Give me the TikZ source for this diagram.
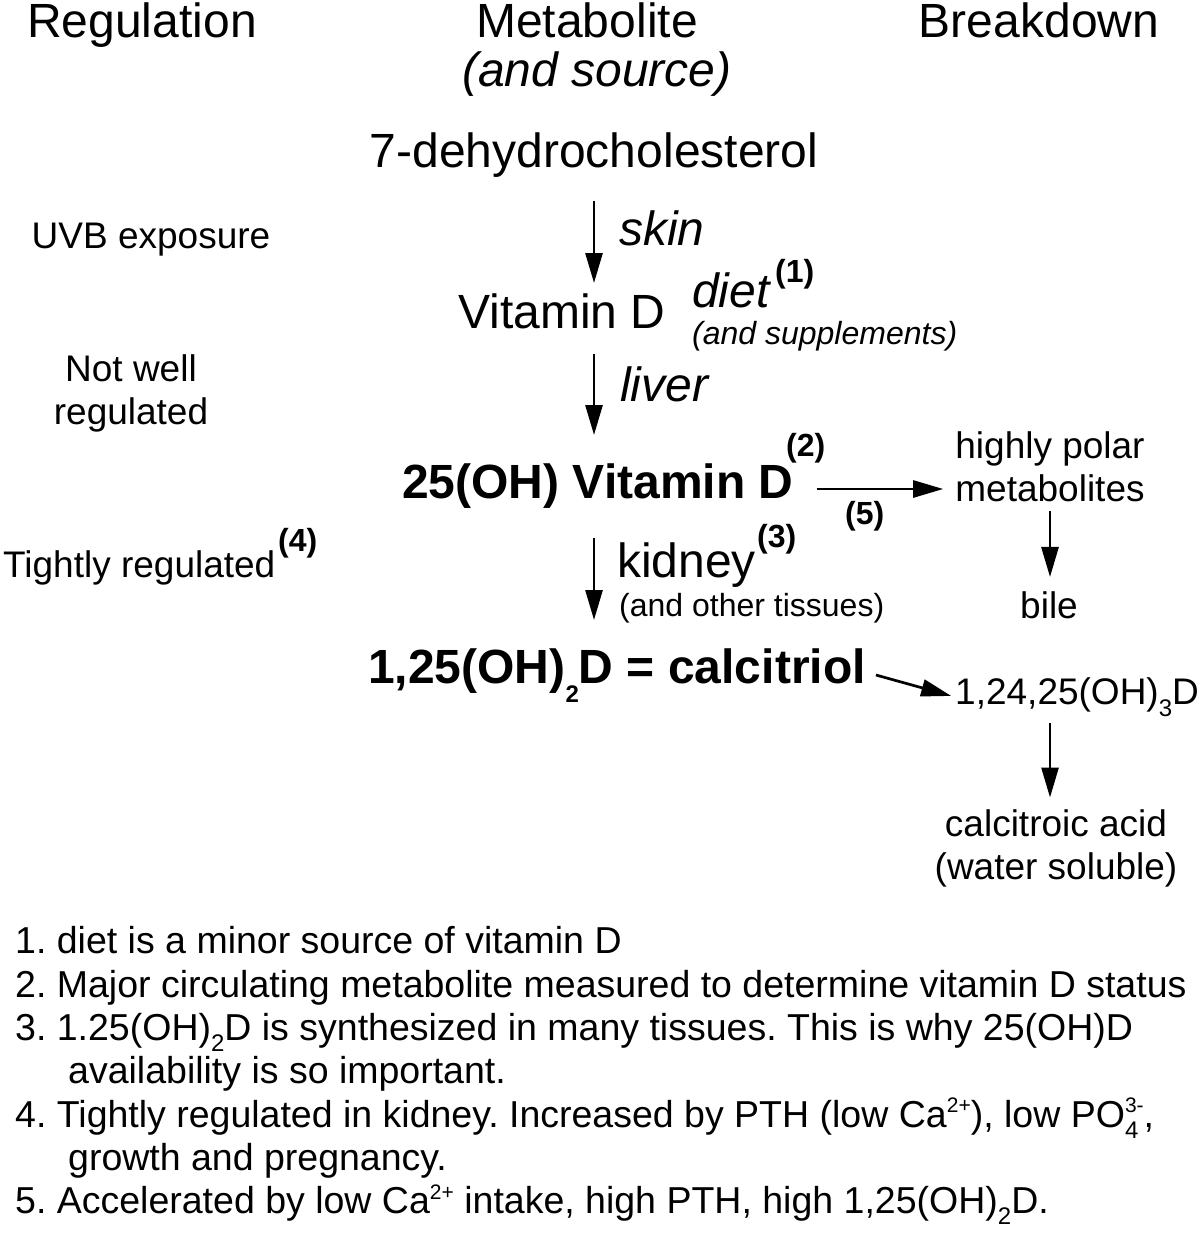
\documentclass[tikz,border=0pt]{standalone}
\usepackage{fontspec}
\setmainfont{Liberation Sans}
\usepackage{tikz}
\usetikzlibrary{arrows.meta}
\tikzset
{
    heading/.style  = {font=\fontsize{48}{56}\selectfont, inner sep=0pt, anchor=base},
    metab/.style    = {font=\fontsize{48}{56}\selectfont, inner sep=0pt, anchor=base west},
    metabold/.style = {font=\fontsize{48}{56}\selectfont\bfseries, inner sep=0pt, anchor=base west},
    organ/.style    = {font=\fontsize{48}{56}\selectfont\itshape, inner sep=0pt, anchor=base west},
    remark/.style   = {font=\fontsize{37}{43.3}\selectfont, inner sep=0pt, align=center},
    aside/.style    = {font=\fontsize{32}{38}\selectfont, inner sep=0pt, anchor=base west},
    notemark/.style = {font=\fontsize{32}{38}\selectfont\bfseries, inner sep=0pt, anchor=base west},
    arrow/.style    = {line width=2.7pt, -{Triangle[length=30pt,width=17pt]}}
}
% lowered / raised small figures
\newcommand\sbx[3]{\raisebox{-#1}{\fontsize{#2}{#2}\selectfont #3}}
\newcommand\spx[3]{\raisebox{#1}{\fontsize{#2}{#2}\selectfont #3}}
\frenchspacing

\begin{document}
\begin{tikzpicture}[x=1pt, y=-1pt]
   \useasboundingbox (0,0) rectangle (1200,1238);

   \node (reg)   [heading]                                      at (142, 38)    {Regulation};
   \node (met)   [heading]                                      at (587, 38)    {Metabolite};
   \node (brk)   [heading]                                      at (1039, 38)   {Breakdown};
   \node (src)   [heading, font=\fontsize{48}{56}\selectfont\itshape] at (597, 87) {(and source)};

   \node (dhc)   [heading]                                      at (594, 168)   {7-dehydrocholesterol};
   \node (vitd)  [metab]                                        at (458, 328)   {Vitamin D};
   \node (ohd)   [metabold]                                     at (402, 498)   {25(OH) Vitamin D};
   \node (calc)  [metabold]                                     at (368, 683)   {1,25(OH)\sbx{0.4em}{24}{2}D = calcitriol};

   \node (skin)  [organ]                                        at (619, 246)   {skin};
   \node (diet)  [organ]                                        at (692, 308)   {diet};
   \node (n1)    [notemark]                                     at (775, 283)   {(1)};
   \node (supp)  [aside, font=\fontsize{32}{38}\selectfont\itshape] at (692, 344) {(and supplements)};
   \node (liver) [organ]                                        at (620, 401)   {liver};
   \node (n2)    [notemark]                                     at (786, 456)   {(2)};
   \node (n5)    [notemark]                                     at (845, 524)   {(5)};
   \node (kid)   [metab]                                        at (617, 577)   {kidney};
   \node (n3)    [notemark]                                     at (757, 547)   {(3)};
   \node (oth)   [aside]                                        at (619, 616)   {(and other tissues)};

   \node (uvb)   [remark, anchor=base]                          at (151, 249)   {UVB exposure};
   \node (loose) [remark, anchor=north]                         at (131, 354.5) {Not well\\regulated};
   \node (tight) [remark, anchor=base west]                     at (3, 577)     {Tightly regulated};
   \node (n4)    [notemark]                                     at (278, 551)   {(4)};

   \node (polar) [remark, anchor=north]                         at (1050, 431.5) {highly polar\\metabolites};
   \node (bile)  [remark, anchor=base]                          at (1049, 618)  {bile};
   \node (tri)   [remark, anchor=base west]                     at (955, 704)   {1,24,25(OH)\sbx{0.33em}{24}{3}D};
   \node (acid)  [remark, anchor=north]                         at (1056, 809.5) {calcitroic acid\\(water soluble)};

   \node (notes) [remark, font=\fontsize{37.5}{43.3}\selectfont, align=left, anchor=north west] at (15, 926.5) {%
      1. diet is a minor source of vitamin D\\
      2. Major circulating metabolite measured to determine vitamin D status\\
      3. 1.25(OH)\sbx{0.3em}{24}{2}D is synthesized in many tissues. This is why 25(OH)D\\
      \hspace*{53pt}availability is so important.\\
      4. Tightly regulated in kidney. Increased by PTH (low Ca\spx{0.38em}{21}{2+}), low PO\rlap{\sbx{0.3em}{24}{4}}\spx{0.38em}{21}{3-},\\
      \hspace*{53pt}growth and pregnancy.\\
      5. Accelerated by low Ca\spx{0.38em}{21}{2+} intake, high PTH, high 1,25(OH)\sbx{0.3em}{24}{2}D.};

   \coordinate (fork) at ([yshift=9pt]ohd.base east);

   \path
      (dhc.south)               edge[arrow, shorten <=23pt, shorten >=10pt]   (dhc.south |- vitd.north)
      (dhc.south |- vitd.south) edge[arrow, shorten <=25pt, shorten >=28pt]   (dhc.south |- ohd.north)
      (dhc.south |- ohd.south)  edge[arrow, shorten <=30pt, shorten >=28pt]   (dhc.south |- calc.north)
      (fork)                    edge[arrow, shorten <=23pt, shorten >=12pt]   (fork -| polar.west)
      (polar.south)             edge[arrow, shorten <=9pt, shorten >=14pt]    (polar.south |- bile.north)
      ([xshift=10pt,yshift=8pt]calc.base east) edge[arrow, shorten >=4pt]     ([yshift=7pt]tri.base west)
      (polar.south |- tri.south) edge[arrow, shorten <=6pt, shorten >=12pt]   (polar.south |- acid.north);
\end{tikzpicture}
\end{document}
